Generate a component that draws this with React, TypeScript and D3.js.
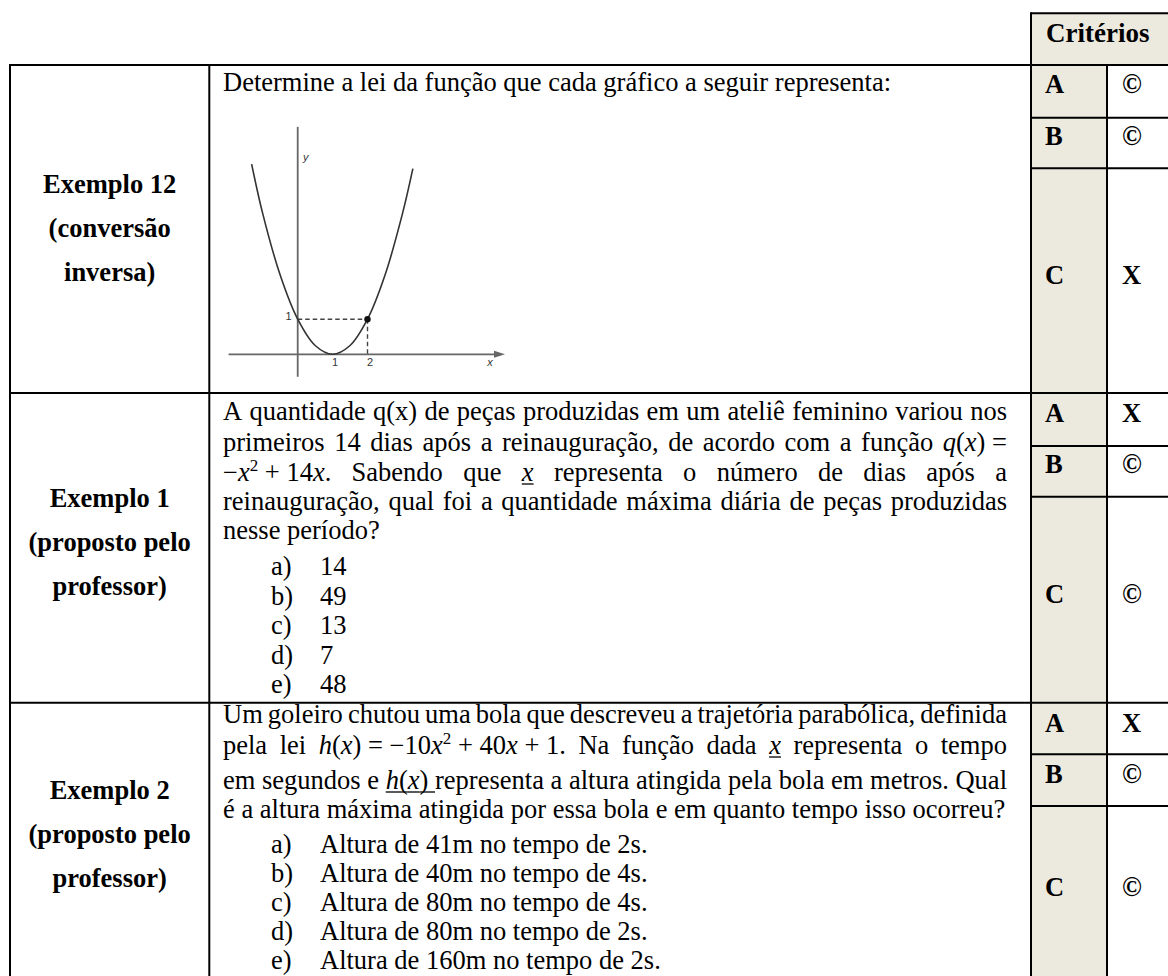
import React from "react";
import * as d3 from "d3";

// ---- table content ----
const rowLabels = [
  ["Exemplo 12", "(conversão", "inversa)"],
  ["Exemplo 1", "(proposto pelo", "professor)"],
  ["Exemplo 2", "(proposto pelo", "professor)"],
];
const headerTitle = "Critérios";
const criteriaLetters = ["A", "B", "C"];
const criteriaMarks = [
  ["©", "©", "X"],
  ["X", "©", "©"],
  ["X", "©", "©"],
];
const optionKeys = ["a)", "b)", "c)", "d)", "e)"];

const q1Text = "Determine a lei da função que cada gráfico a seguir representa:";

// * italic, ^ superscript, _ underline
const q2Lines = [
  "A quantidade q(x) de peças produzidas em um ateliê feminino variou nos",
  "primeiros 14 dias após a reinauguração, de acordo com a função *q*(*x*)\u00a0=",
  "−*x*^2^\u00a0+\u00a014*x*. Sabendo que _*x*_ representa o número de dias após a",
  "reinauguração, qual foi a quantidade máxima diária de peças produzidas",
  "nesse período?",
];
const q2Options = ["14", "49", "13", "7", "48"];

const q3Lines = [
  "Um goleiro chutou uma bola que descreveu a trajetória parabólica, definida",
  "pela lei *h*(*x*)\u00a0=\u00a0−10*x*^2^\u00a0+\u00a040*x*\u00a0+\u00a01. Na função dada _*x*_ representa o tempo",
  "em segundos e _*h*(*x*)\u00a0_representa a altura atingida pela bola em metros. Qual",
  "é a altura máxima atingida por essa bola e em quanto tempo isso ocorreu?",
];
const q3Options = [
  "Altura de 41m no tempo de 2s.",
  "Altura de 40m no tempo de 4s.",
  "Altura de 80m no tempo de 4s.",
  "Altura de 80m no tempo de 2s.",
  "Altura de 160m no tempo de 2s.",
];

// ---- parabola graph ----
const curveX = [-1.32, -1, -0.5, 0, 0.5, 1, 1.5, 2, 2.5, 3, 3.3];
const curveY = [5.42, 4, 2.25, 1, 0.25, 0, 0.25, 1, 2.25, 4, 5.29];
const markX = [2];
const markY = [1];
const xTicks = [1, 2];
const yTicks = [1];
const xAxisRange = [-1.98, 5.94];
const yAxisRange = [-0.64, 6.48];

// ---- layout ----
const W = 1168, H = 976;
const SERIF = '"Liberation Serif", "Times New Roman", serif';
const SANS = '"Liberation Sans", Arial, sans-serif';
const FS = 26.5;
const SUP = 17;
const BEIGE = "#ECE9DF";

const xLeft = 10, xDiv = 209.3, xCrit = 1031, xMark = 1107, xRight = 1200;
const headerTop = 13.3;
const rowTops = [65, 393, 702.7, 990];
const subTops = [
  [65, 117.7, 168.3],
  [393, 446, 496.7],
  [702.7, 754.3, 806],
];
const labelBase = [
  [193, 237, 281],
  [507, 551, 595],
  [799, 843, 887],
];
const critBase = [
  [93, 145, 284],
  [421.5, 473, 603],
  [731.5, 783, 896],
];
const textX0 = 223, textX1 = 1007;
const keyX = 271, optX = 320;
const q2Base = [420, 451, 481, 510, 539];
const q2OptBase = [575, 604.5, 634, 663.5, 693];
const q3Base = [723, 754, 789, 818];
const q3OptBase = [853, 882, 911, 940, 969];

let ctx: CanvasRenderingContext2D | null = null;
function textW(s: string, size: number, italic = false) {
  if (!ctx) ctx = document.createElement("canvas").getContext("2d");
  ctx!.font = `${italic ? "italic " : ""}${size}px "Liberation Serif"`;
  return ctx!.measureText(s).width;
}

type Run = { t: string; it: boolean; sup: boolean; ul: boolean; w: number };
function parseWord(word: string): Run[] {
  const runs: Run[] = [];
  let it = false, sup = false, ul = false, buf = "";
  const flush = () => {
    if (buf) runs.push({ t: buf, it, sup, ul, w: textW(buf, sup ? SUP : FS, it) });
    buf = "";
  };
  for (const ch of word) {
    if (ch === "*") { flush(); it = !it; }
    else if (ch === "^") { flush(); sup = !sup; }
    else if (ch === "_") { flush(); ul = !ul; }
    else buf += ch;
  }
  flush();
  return runs;
}

function TextLine({ text, x0, x1, y, justify }: { text: string; x0: number; x1: number; y: number; justify: boolean }) {
  const words = text.split(" ").map((w) => {
    const runs = parseWord(w);
    return { runs, w: d3.sum(runs, (r) => r.w) };
  });
  const total = d3.sum(words, (w) => w.w);
  const gap = justify && words.length > 1 ? (x1 - x0 - total) / (words.length - 1) : textW(" ", FS);
  const out: React.ReactNode[] = [];
  let x = x0;
  words.forEach((wd, i) => {
    let rx = x;
    wd.runs.forEach((r, j) => {
      out.push(
        <text key={`t${i}-${j}`} x={rx} y={r.sup ? y - 10 : y} fontSize={r.sup ? SUP : FS}
          fontStyle={r.it ? "italic" : "normal"}>{r.t}</text>
      );
      if (r.ul) out.push(<line key={`u${i}-${j}`} x1={rx} x2={rx + r.w} y1={y + 3} y2={y + 3} stroke="#000" strokeWidth={1.3} />);
      rx += r.w;
    });
    x += wd.w + gap;
  });
  return <g>{out}</g>;
}

function Parabola() {
  const x = d3.scaleLinear().domain([0, 2]).range([297.7, 367.5]);
  const y = d3.scaleLinear().domain([0, 1]).range([354.3, 319.2]);
  const pts: [number, number][] = curveX.map((v, i) => [v, curveY[i]]);
  const line = d3.line<[number, number]>().x((d) => x(d[0])).y((d) => y(d[1])).curve(d3.curveCatmullRom.alpha(0.5));
  const tip = x(xAxisRange[1]);
  const y0 = y(0);
  return (
    <g fontFamily={SANS}>
      <line x1={x(xAxisRange[0])} x2={tip - 4} y1={y0} y2={y0} stroke="#666" strokeWidth={1.8} />
      <path d={`M${tip},${y0} L${tip - 11},${y0 - 3.5} L${tip - 11},${y0 + 3.5} Z`} fill="#666" />
      <line x1={x(0)} x2={x(0)} y1={y(yAxisRange[0])} y2={y(yAxisRange[1])} stroke="#666" strokeWidth={1.8} />
      {markX.map((mx, i) => (
        <g key={i}>
          <line x1={x(0)} x2={x(mx)} y1={y(markY[i])} y2={y(markY[i])} stroke="#444" strokeWidth={1.4} strokeDasharray="4.5,3" />
          <line x1={x(mx)} x2={x(mx)} y1={y(markY[i])} y2={y(0)} stroke="#444" strokeWidth={1.4} strokeDasharray="4.5,3" />
        </g>
      ))}
      <path d={line(pts) ?? ""} fill="none" stroke="#333" strokeWidth={1.6} />
      {markX.map((mx, i) => (
        <circle key={i} cx={x(mx)} cy={y(markY[i])} r={3.2} fill="#111" />
      ))}
      {xTicks.map((t) => (
        <text key={t} x={x(t) + 2.5} y={y0 + 12} fontSize={11} textAnchor="middle" fill="#333">{t}</text>
      ))}
      {yTicks.map((t) => (
        <text key={t} x={x(0) - 6} y={y(t) + 0.5} fontSize={11} textAnchor="end" fill="#333">{t}</text>
      ))}
      <text x={tip - 15} y={y0 + 12} fontSize={11} fontStyle="italic" fill="#333" textAnchor="middle">x</text>
      <text x={x(0) + 8} y={161} fontSize={11} fontStyle="italic" fill="#333" textAnchor="middle">y</text>
    </g>
  );
}

export default function App() {
  const lw = 2;
  return (
    <svg width={W} height={H} style={{ position: "absolute", left: 0, top: 0, background: "#fff" }}
      fontFamily={SERIF} fill="#000">
      {/* fills */}
      <rect x={xCrit} y={headerTop} width={xRight - xCrit} height={rowTops[0] - headerTop} fill={BEIGE} />
      <rect x={xCrit} y={rowTops[0]} width={xMark - xCrit} height={rowTops[3] - rowTops[0]} fill={BEIGE} />

      {/* grid lines */}
      <g stroke="#000" strokeWidth={lw}>
        <line x1={xCrit} x2={xRight} y1={headerTop} y2={headerTop} />
        <line x1={xCrit} x2={xCrit} y1={headerTop - 1} y2={rowTops[3]} />
        {rowTops.slice(0, 3).map((ry) => (
          <line key={ry} x1={xLeft - 1} x2={xRight} y1={ry} y2={ry} />
        ))}
        {subTops.flatMap((s) => s.slice(1)).map((sy) => (
          <line key={sy} x1={xCrit} x2={xRight} y1={sy} y2={sy} />
        ))}
        <line x1={xLeft} x2={xLeft} y1={rowTops[0] - 1} y2={rowTops[3]} />
        <line x1={xDiv} x2={xDiv} y1={rowTops[0] - 1} y2={rowTops[3]} />
        <line x1={xMark} x2={xMark} y1={rowTops[0]} y2={rowTops[3]} />
      </g>

      {/* header */}
      <text x={1046} y={41.7} fontSize={27} fontWeight="bold">{headerTitle}</text>

      {/* row labels */}
      {rowLabels.map((lab, r) =>
        lab.map((s, k) => (
          <text key={`${r}-${k}`} x={(xLeft + xDiv) / 2} y={labelBase[r][k]} fontSize={FS} fontWeight="bold" textAnchor="middle">{s}</text>
        ))
      )}

      {/* criteria */}
      {criteriaMarks.map((marks, r) =>
        marks.map((m, k) => (
          <g key={`${r}-${k}`} fontSize={FS} fontWeight="bold">
            <text x={1045} y={critBase[r][k]}>{criteriaLetters[k]}</text>
            <text x={1122} y={critBase[r][k]}>{m}</text>
          </g>
        ))
      )}

      {/* question 1 */}
      <text x={textX0} y={90.5} fontSize={FS}>{q1Text}</text>
      <Parabola />

      {/* question 2 */}
      {q2Lines.map((l, i) => (
        <TextLine key={i} text={l} x0={textX0} x1={textX1} y={q2Base[i]} justify={i < q2Lines.length - 1} />
      ))}
      {q2Options.map((o, i) => (
        <g key={i} fontSize={FS}>
          <text x={keyX} y={q2OptBase[i]}>{optionKeys[i]}</text>
          <text x={optX} y={q2OptBase[i]}>{o}</text>
        </g>
      ))}

      {/* question 3 */}
      {q3Lines.map((l, i) => (
        <TextLine key={i} text={l} x0={textX0} x1={textX1} y={q3Base[i]} justify={i < q3Lines.length - 1} />
      ))}
      {q3Options.map((o, i) => (
        <g key={i} fontSize={FS}>
          <text x={keyX} y={q3OptBase[i]}>{optionKeys[i]}</text>
          <text x={optX} y={q3OptBase[i]}>{o}</text>
        </g>
      ))}
    </svg>
  );
}
